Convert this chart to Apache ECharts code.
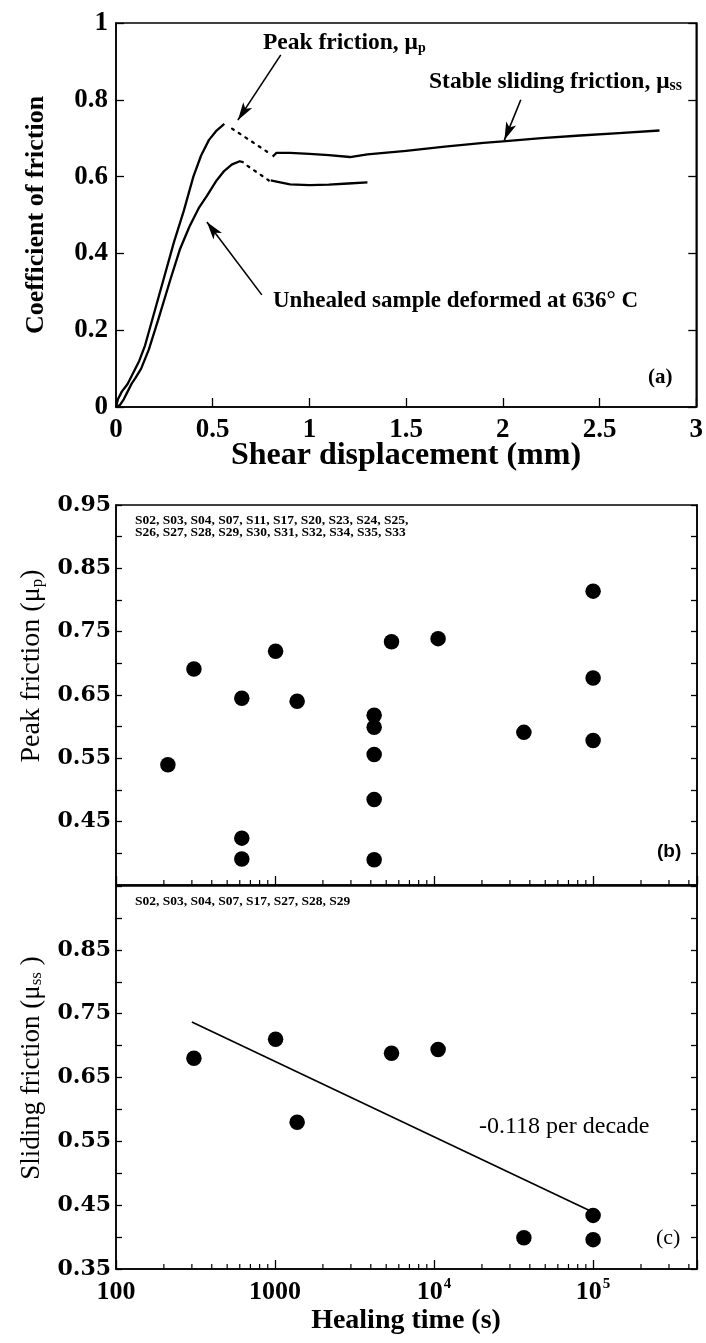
<!DOCTYPE html>
<html><head><meta charset="utf-8">
<script src="https://cdn.jsdelivr.net/npm/echarts@6/dist/echarts.min.js"></script>
<style>html,body{margin:0;padding:0;background:#fff}#chart{width:706px;height:1343px}</style>
</head><body><div id="chart"></div>
<script>
// ---------- Panel (a): friction vs shear displacement ----------
const upperRise = [[0,0],[0.01,0.02],[0.03,0.04],[0.06,0.06],[0.09,0.09],[0.12,0.12],[0.15,0.16],[0.2,0.25],[0.25,0.34],[0.3,0.43],[0.35,0.51],[0.4,0.6],[0.44,0.655],[0.48,0.695],[0.52,0.72],[0.56,0.737]];
const upperDrop = [[0.6,0.725],[0.79,0.662]];
const upperSliding = [[0.81,0.652],[0.83,0.662],[0.9,0.662],[1.0,0.659],[1.1,0.656],[1.21,0.651],[1.3,0.658],[1.5,0.667],[1.7,0.678],[1.9,0.688],[2.0,0.692],[2.2,0.7],[2.4,0.707],[2.6,0.713],[2.81,0.72]];
const lowerRise = [[0,0],[0.02,0.005],[0.04,0.02],[0.06,0.04],[0.08,0.06],[0.1,0.075],[0.13,0.1],[0.17,0.15],[0.22,0.23],[0.28,0.33],[0.33,0.41],[0.38,0.47],[0.43,0.52],[0.47,0.55],[0.52,0.59],[0.56,0.615],[0.6,0.632],[0.64,0.64],[0.66,0.637]];
const lowerDrop = [[0.68,0.628],[0.79,0.59]];
const lowerSliding = [[0.8,0.59],[0.83,0.587],[0.9,0.58],[1.0,0.578],[1.1,0.579],[1.2,0.582],[1.3,0.585]];
// arrows: [from, to] in data units
const arrowPeak = [[0.852,0.917],[0.63,0.747]];
const arrowStable = [[2.093,0.80],[2.008,0.695]];
const arrowUnhealed = [[0.754,0.292],[0.47,0.482]];

// ---------- Panel (b): peak friction vs healing time ----------
const peakTime = [212, 309, 618, 618, 618, 1008, 1377, 4200, 4200, 4200, 4200, 4200, 5400, 10600, 36700, 100000, 100000, 100000];
const peakFriction = [0.540, 0.691, 0.645, 0.424, 0.391, 0.719, 0.640, 0.618, 0.599, 0.556, 0.485, 0.390, 0.734, 0.739, 0.591, 0.814, 0.677, 0.578];

// ---------- Panel (c): sliding friction vs healing time ----------
const slideTime = [309, 1008, 1377, 5400, 10600, 36700, 100000, 100000];
const slideFriction = [0.680, 0.710, 0.580, 0.688, 0.694, 0.399, 0.434, 0.396];
const trendTime = [300, 100000];
const trendFriction = [0.737, 0.439];

// ---------- axis tick labels ----------
const dispTicks = [0, 0.5, 1, 1.5, 2, 2.5, 3];
const coefTicks = [0, 0.2, 0.4, 0.6, 0.8, 1];
const healingLabels = {100: '100', 1000: '1000', 10000: '10{sup|4}', 100000: '10{sup|5}'};
const logMinorTicks = [200,300,400,500,600,700,800,900,2000,3000,4000,5000,6000,7000,8000,9000,20000,30000,40000,50000,60000,70000,80000,90000,200000,300000,400000];
const bLabels = ['0.95','0.85','0.75','0.65','0.55','0.45'];
const cLabels = ['0.85','0.75','0.65','0.55','0.45','0.35'];

const SERIF = '"Liberation Serif","Times New Roman",serif';
const WIDE = '"DejaVu Serif",serif';
const K = '#000';

const chart = echarts.init(document.getElementById('chart'), null, {renderer: 'canvas'});

const gridStyle = {show: true, borderColor: K, borderWidth: 1.5, backgroundColor: 'transparent'};
const axLine = {show: true, lineStyle: {color: K, width: 1.5}};

function frictionY(gridIndex, pos, labels, showLabels) {
  return {
    type: 'value', gridIndex, position: pos, min: 0.35, max: 0.95, interval: 0.05,
    axisLine: axLine, splitLine: {show: false},
    axisTick: {show: true, inside: true, length: 6, lineStyle: {color: K, width: 1.3}},
    axisLabel: {show: showLabels, margin: 5, color: K, fontFamily: WIDE, fontWeight: 'bold', fontSize: 22,
      formatter: v => { const s = v.toFixed(2); return labels.indexOf(s) >= 0 ? s : ''; }}
  };
}
function healX(gridIndex, showLabels) {
  return {
    type: 'log', gridIndex, min: 100, max: 450000, logBase: 10,
    axisLine: axLine, splitLine: {show: false}, minorTick: {show: false},
    axisTick: {show: true, inside: true, length: 9, lineStyle: {color: K, width: 1.3}},
    axisLabel: {show: showLabels, margin: 8, color: K, fontFamily: SERIF, fontWeight: 'bold', fontSize: 26, lineHeight: 30,
      formatter: v => healingLabels[Math.round(v)] || '',
      rich: {sup: {fontSize: 15, fontFamily: SERIF, fontWeight: 'bold', color: K, verticalAlign: 'top', lineHeight: 16, padding: [0, 0, 0, 1]}}}
  };
}
function minorTickSeries(xi, yi) {
  return {
    type: 'custom', xAxisIndex: xi, yAxisIndex: yi, silent: true, clip: false,
    data: logMinorTicks.map(t => [t, 0.35]),
    renderItem: (params, api) => {
      const p = api.coord([api.value(0), api.value(1)]);
      return {type: 'line', shape: {x1: p[0], y1: p[1], x2: p[0], y2: p[1] - 5}, style: {stroke: K, lineWidth: 1.2}};
    }
  };
}
function arrow(a) {
  return [{coord: a[0], symbol: 'none'}, {coord: a[1], symbol: 'arrow', symbolSize: [8, 18]}];
}
function txt(text, x, y, font, opts) {
  const o = opts || {};
  return {
    type: 'text', x, y, rotation: o.rot || 0, silent: true,
    style: Object.assign({text, fill: K, font, align: o.align || 'left', verticalAlign: 'middle'}, o.rich ? {rich: o.rich} : {})
  };
}
const subSmall = size => ({sub: {fontSize: size, fontFamily: SERIF, fontWeight: 'bold', fill: K, verticalAlign: 'bottom', lineHeight: size}});
const curve = (data, dotted) => ({
  type: 'line', xAxisIndex: 0, yAxisIndex: 0, data, showSymbol: false, smooth: false,
  lineStyle: dotted ? {color: K, width: 2.3, type: [2, 6], cap: 'round'} : {color: K, width: 2.3, join: 'round'}
});
const dots = {symbol: 'circle', symbolSize: 15.5, itemStyle: {color: K, opacity: 1}};

const option = {
  animation: false,
  backgroundColor: '#fff',
  grid: [
    Object.assign({left: 116, top: 23, width: 581, height: 384}, gridStyle),
    Object.assign({left: 116, top: 505, width: 581, height: 380}, gridStyle),
    Object.assign({left: 116, top: 886, width: 581, height: 383}, gridStyle)
  ],
  xAxis: [
    {type: 'value', gridIndex: 0, min: 0, max: 3, interval: 0.5,
     axisLine: axLine, splitLine: {show: false},
     axisTick: {show: true, inside: true, length: 9, lineStyle: {color: K, width: 1.3}},
     axisLabel: {margin: 10, color: K, fontFamily: SERIF, fontWeight: 'bold', fontSize: 27,
       formatter: v => { const i = dispTicks.findIndex(d => Math.abs(d - v) < 1e-6); return i >= 0 ? String(dispTicks[i]) : ''; }}},
    healX(1, false),
    healX(2, true)
  ],
  yAxis: [
    {type: 'value', gridIndex: 0, min: 0, max: 1, interval: 0.2,
     axisLine: axLine, splitLine: {show: false},
     axisTick: {show: true, inside: true, length: 8, lineStyle: {color: K, width: 1.3}},
     axisLabel: {margin: 8, color: K, fontFamily: SERIF, fontWeight: 'bold', fontSize: 27,
       formatter: v => { const i = coefTicks.findIndex(d => Math.abs(d - v) < 1e-6); return i >= 0 ? String(coefTicks[i]) : ''; }}},
    {type: 'value', gridIndex: 0, position: 'right', min: 0, max: 1, interval: 0.2,
     axisLine: axLine, splitLine: {show: false}, axisLabel: {show: false},
     axisTick: {show: true, inside: true, length: 8, lineStyle: {color: K, width: 1.3}}},
    frictionY(1, 'left', bLabels, true),
    frictionY(1, 'right', bLabels, false),
    frictionY(2, 'left', cLabels, true),
    frictionY(2, 'right', cLabels, false)
  ],
  series: [
    Object.assign(curve(upperRise, false), {
      markLine: {silent: true, animation: false, symbol: ['none', 'arrow'], label: {show: false},
        lineStyle: {color: K, width: 1.6, type: 'solid'}, emphasis: {disabled: true},
        data: [arrow(arrowPeak), arrow(arrowStable), arrow(arrowUnhealed)]}}),
    curve(upperDrop, true),
    curve(upperSliding, false),
    curve(lowerRise, false),
    curve(lowerDrop, true),
    curve(lowerSliding, false),

    Object.assign({type: 'scatter', xAxisIndex: 1, yAxisIndex: 2, data: peakTime.map((t, i) => [t, peakFriction[i]])}, dots),
    minorTickSeries(1, 2),

    {type: 'line', xAxisIndex: 2, yAxisIndex: 4, data: trendTime.map((t, i) => [t, trendFriction[i]]),
     showSymbol: false, lineStyle: {color: K, width: 1.7}},
    Object.assign({type: 'scatter', xAxisIndex: 2, yAxisIndex: 4, data: slideTime.map((t, i) => [t, slideFriction[i]])}, dots),
    minorTickSeries(2, 4)
  ],
  graphic: [
    txt('Coefficient of friction', 36, 215, 'bold 26px ' + SERIF, {rot: Math.PI / 2, align: 'center'}),
    txt('Shear displacement (mm)', 406, 456, 'bold 32px ' + SERIF, {align: 'center'}),
    txt('Peak friction, μ{sub|p}', 263, 43, 'bold 23.5px ' + SERIF, {rich: subSmall(14)}),
    txt('Stable sliding friction, μ{sub|ss}', 429, 82, 'bold 23.5px ' + SERIF, {rich: subSmall(16)}),
    txt('Unhealed sample deformed at 636° C', 273, 301, 'bold 23px ' + SERIF),
    txt('(a)', 648, 378, 'bold 21px ' + SERIF),

    txt('S02, S03, S04, S07, S11, S17, S20, S23, S24, S25,', 135, 521, 'bold 13.5px ' + SERIF),
    txt('S26, S27, S28, S29, S30, S31, S32, S34, S35, S33', 135, 533, 'bold 13.5px ' + SERIF),
    txt('(b)', 657, 852, 'bold 19px "Liberation Sans",Arial,sans-serif'),
    txt('Peak friction (μ{sub|p})', 32, 666, '28px ' + SERIF, {rot: Math.PI / 2, align: 'center',
      rich: {sub: {fontSize: 17, fontFamily: SERIF, fill: K, verticalAlign: 'bottom', lineHeight: 16}}}),

    txt('S02, S03, S04, S07, S17, S27, S28, S29', 135, 902, 'bold 13.5px ' + SERIF),
    txt('-0.118 per decade', 479, 1127, '24px ' + SERIF),
    txt('(c)', 656, 1238, '22px ' + SERIF),
    txt('Sliding friction (μ{sub|ss} )', 32, 1068, '27px ' + SERIF, {rot: Math.PI / 2, align: 'center',
      rich: {sub: {fontSize: 17, fontFamily: SERIF, fill: K, verticalAlign: 'bottom', lineHeight: 16}}}),
    txt('Healing time (s)', 406, 1321, 'bold 28px ' + SERIF, {align: 'center'})
  ]
};
chart.setOption(option);
</script>
</body></html>
